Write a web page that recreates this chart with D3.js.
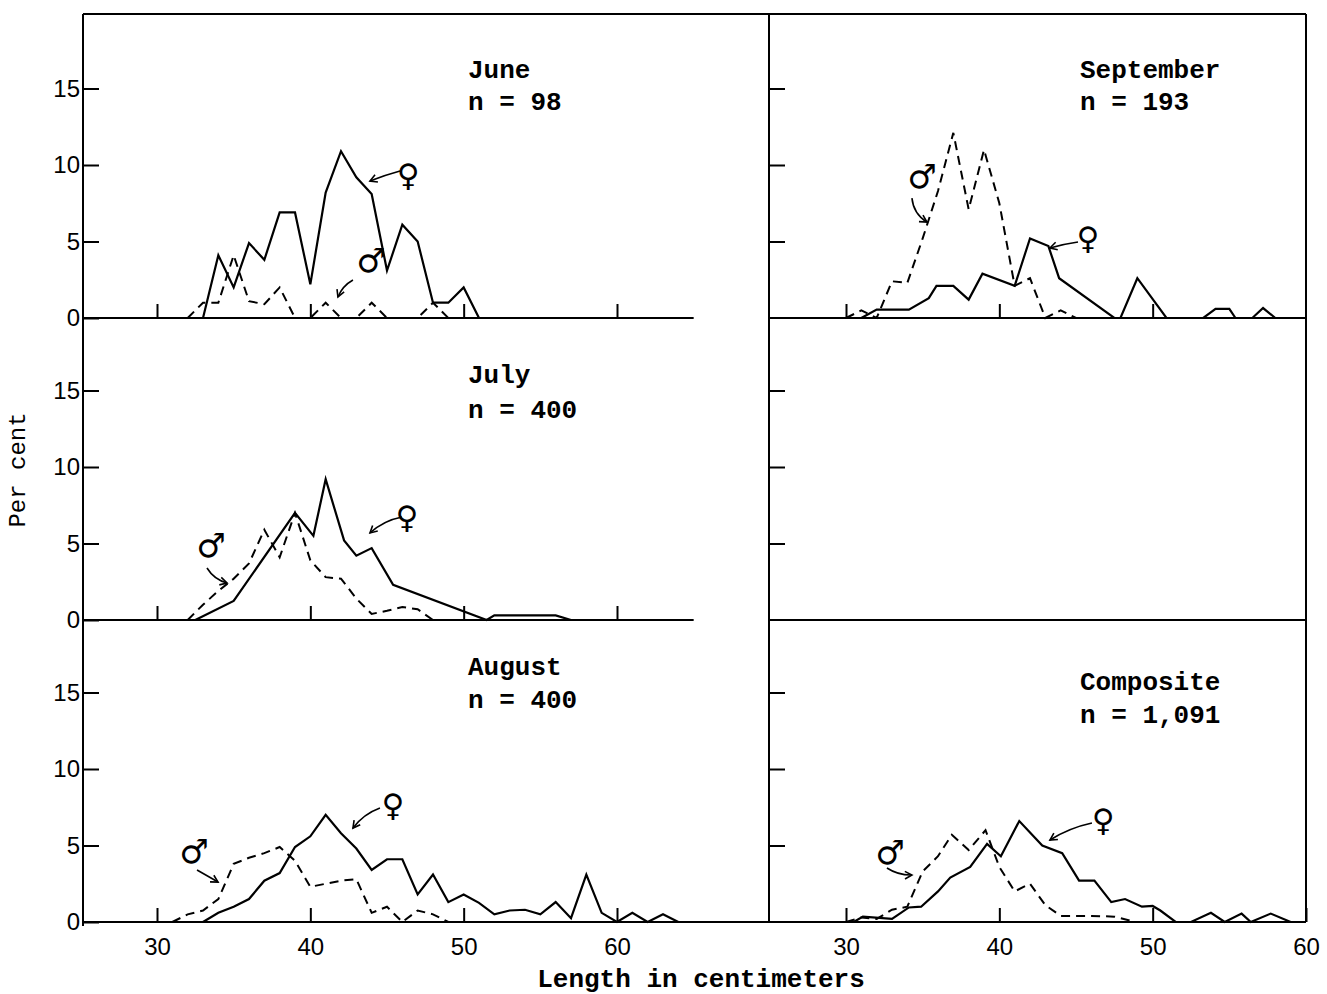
<!DOCTYPE html>
<html>
<head>
<meta charset="utf-8">
<script src="https://cdn.jsdelivr.net/npm/d3@7/dist/d3.min.js"></script>
<style>
  body { margin: 0; background: #fff; }
</style>
</head>
<body>
<div id="chart"></div>
<script>
// Length-frequency data: [length in cm, per cent]
const juneFemale = [[33,0],[34,4.1],[35,2.0],[36,4.9],[37,3.8],[38,6.9],[39,6.9],[40,2.2],[41,8.2],[42,10.9],[43,9.2],[44,8.1],[45,3.1],[46,6.1],[47,5.0],[48,1.0],[49,1.0],[50,2.0],[51,0]];
const juneMale = [[32,0],[33,1.0],[34,1.0],[35,4.1],[36,1.1],[37,0.9],[38,2.0],[39,0],[40,0],[41,1.0],[42,0],[43,0],[44,1.0],[45,0],[47,0],[48,1.0],[49,0]];

const julyFemale = [[32.5,0],[35,1.25],[39,7.0],[40.2,5.5],[41,9.2],[42.2,5.2],[43,4.2],[44,4.7],[45.4,2.3],[51.5,0],[52,0.3],[56,0.3],[57,0]];
const julyMale = [[32,0],[33,1.0],[34,1.9],[35,2.7],[36,3.7],[37,5.9],[38,4.1],[39,7.0],[40,3.9],[41,2.8],[42,2.7],[43,1.4],[44,0.4],[45,0.6],[46,0.85],[47,0.7],[48,0]];

const augustFemale = [[33,0],[34,0.6],[35,1.0],[36,1.5],[37,2.7],[38,3.2],[39,4.9],[40,5.6],[41,7.0],[42,5.8],[43,4.8],[44,3.4],[45,4.1],[46,4.1],[47,1.8],[48,3.1],[49,1.3],[50,1.8],[51,1.25],[52,0.5],[53,0.75],[54,0.8],[55,0.5],[56,1.3],[57,0.25],[58,3.1],[59,0.6],[60,0],[61,0.6],[62,0],[63,0.5],[64,0]];
const augustMale = [[31,0],[32,0.5],[33,0.75],[34,1.5],[35,3.8],[36,4.2],[37,4.5],[38,4.9],[39,4.0],[40,2.3],[41,2.5],[42,2.7],[43,2.8],[44,0.6],[45,1.0],[46,0],[47,0.75],[48,0.5],[49,0]];

const septemberFemale = [[31,0],[32,0.55],[34.1,0.55],[35.4,1.3],[35.9,2.1],[37,2.1],[38,1.2],[38.9,2.9],[41,2.1],[42,5.2],[43.2,4.7],[43.9,2.6],[47.5,0],[47.9,0],[49,2.6],[50.9,0],[53.3,0],[54.1,0.6],[55,0.6],[55.4,0],[56.5,0],[57.2,0.65],[58,0]];
const septemberMale = [[30,0],[31,0.5],[32,0],[33,2.4],[34,2.3],[35,5.2],[36,8.3],[37,12.1],[38,7.1],[39,11.0],[40,7.5],[41,2.1],[42,2.6],[43,0],[44,0.5],[45,0]];

const compositeFemale = [[30.5,0],[31.1,0.35],[33,0.2],[34.1,0.95],[34.9,1.0],[36,2.0],[36.8,2.9],[38.1,3.6],[39.2,5.1],[40.1,4.3],[41.3,6.6],[42.8,5.0],[44.1,4.5],[45.2,2.7],[46.2,2.7],[47.3,1.3],[48.2,1.5],[49.3,1.0],[50,1.05],[50.5,0.75],[51.5,0],[52.5,0],[53.8,0.6],[54.7,0],[55.8,0.55],[56.4,0],[57.7,0.55],[59,0]];
const compositeMale = [[30,0],[31,0.3],[32,0.2],[33,0.8],[34,1.0],[35,3.3],[36,4.3],[36.9,5.7],[38,4.7],[39.1,6.0],[40,3.6],[41,2.0],[42,2.5],[43,1.1],[44,0.4],[46,0.4],[47.5,0.35],[48.9,0]];

const yTickValues = [0, 5, 10, 15];
const xTickValues = [30, 40, 50, 60];

// Layout
const width = 1327, height = 994;
const frameTop = 14, frameLeft = 83, divider = 769, frameRight = 1306;
const rowBase = [318, 620, 922];
const monoFont = "'Liberation Mono', 'Courier New', monospace";
const numFont = "'Liberation Sans', Arial, sans-serif";
const symFont = "'DejaVu Sans', sans-serif";

const svg = d3.select("#chart").append("svg")
    .attr("width", width)
    .attr("height", height)
    .style("background", "#fff");

const xL = d3.scaleLinear().domain([30, 60]).range([157, 617]);
const xR = d3.scaleLinear().domain([30, 60]).range([846, 1306]);
function yRow(i) {
    return d3.scaleLinear().domain([0, 15]).range([rowBase[i], rowBase[i] - 229.5]);
}

// Panel settings (label offsets in px from each panel's baseline)
const panels = [
    { title: "June", n: "n = 98", row: 0, side: "L", female: juneFemale, male: juneMale,
      baseEnd: 65, xt: xTickValues, labelX: 468, labelDy: [-240, -208],
      fGlyph: [46.37, 9.35], fArrow: [[45.85, 9.61], [43.89, 8.95], 1],
      mGlyph: [43.96, 3.79], mArrow: [[42.78, 2.48], [41.8, 1.37], 4] },
    { title: "July", n: "n = 400", row: 1, side: "L", female: julyFemale, male: julyMale,
      baseEnd: 65, xt: xTickValues, labelX: 468, labelDy: [-237, -202],
      fGlyph: [46.3, 6.73], fArrow: [[45.98, 6.73], [43.89, 5.69], 5],
      mGlyph: [33.52, 4.84], mArrow: [[33.26, 3.4], [34.57, 2.42], 5] },
    { title: "August", n: "n = 400", row: 2, side: "L", female: augustFemale, male: augustMale,
      baseEnd: null, xt: xTickValues, labelX: 468, labelDy: [-247, -214],
      fGlyph: [45.39, 7.65], fArrow: [[44.54, 7.45], [42.78, 6.14], 5],
      mGlyph: [32.41, 4.58], mArrow: [[32.61, 3.4], [33.98, 2.61], 0] },
    { title: "September", n: "n = 193", row: 0, side: "R", female: septemberFemale, male: septemberMale,
      baseEnd: null, xt: [30, 40, 50], labelX: 1080, labelDy: [-240, -208],
      fGlyph: [45.78, 5.23], fArrow: [[45.13, 4.97], [43.3, 4.58], 1],
      mGlyph: [34.96, 9.22], mArrow: [[34.3, 7.84], [35.28, 6.27], 7] },
    { title: null, row: 1, side: "R", xt: [] },
    { title: "Composite", n: "n = 1,091", row: 2, side: "R", female: compositeFemale, male: compositeMale,
      baseEnd: null, xt: xTickValues, labelX: 1080, labelDy: [-232, -199],
      fGlyph: [46.76, 6.67], fArrow: [[46.04, 6.47], [43.3, 5.36], 4],
      mGlyph: [32.87, 4.51], mArrow: [[32.67, 3.53], [34.3, 3.07], 4] }
];

const frame = svg.append("g").attr("stroke", "#000").attr("stroke-width", 2).attr("fill", "none");
frame.append("line").attr("x1", frameLeft).attr("x2", frameRight).attr("y1", frameTop).attr("y2", frameTop);
frame.append("line").attr("x1", frameLeft).attr("x2", frameLeft).attr("y1", frameTop).attr("y2", rowBase[2] + 4);
frame.append("line").attr("x1", divider).attr("x2", divider).attr("y1", frameTop).attr("y2", rowBase[2]);
frame.append("line").attr("x1", frameRight).attr("x2", frameRight).attr("y1", frameTop).attr("y2", rowBase[2]);

function drawArrow(g, x, y, a) {
    const p0 = a[0], p1 = a[1], bend = a[2];
    const x0 = x(p0[0]), y0 = y(p0[1]), x1 = x(p1[0]), y1 = y(p1[1]);
    const dx = x1 - x0, dy = y1 - y0, len = Math.hypot(dx, dy);
    const cx = (x0 + x1) / 2 - dy / len * bend, cy = (y0 + y1) / 2 + dx / len * bend;
    g.append("path")
        .attr("d", `M${x0},${y0}Q${cx},${cy} ${x1},${y1}`)
        .attr("fill", "none").attr("stroke", "#000").attr("stroke-width", 1.6);
    const ang = Math.atan2(y1 - cy, x1 - cx), h = 8, s = 0.5;
    g.append("path")
        .attr("d", `M${x1 - h * Math.cos(ang - s)},${y1 - h * Math.sin(ang - s)}L${x1},${y1}L${x1 - h * Math.cos(ang + s)},${y1 - h * Math.sin(ang + s)}`)
        .attr("fill", "none").attr("stroke", "#000").attr("stroke-width", 1.6);
}

panels.forEach(function(p) {
    const x = p.side === "L" ? xL : xR;
    const y = yRow(p.row);
    const base = rowBase[p.row];
    const g = svg.append("g");
    const left = p.side === "L" ? frameLeft : divider;
    const right = p.side === "L" ? (p.baseEnd ? x(p.baseEnd) : divider) : frameRight;

    // baseline (zero line)
    g.append("line")
        .attr("x1", left).attr("x2", right)
        .attr("y1", base).attr("y2", base)
        .attr("stroke", "#000").attr("stroke-width", 2);

    // y axis ticks (inward) with labels on the left panels only
    const yAxis = d3.axisLeft(y)
        .tickValues(p.side === "L" ? yTickValues : [5, 10, 15])
        .tickSizeInner(-16).tickSizeOuter(0).tickPadding(3)
        .tickFormat(p.side === "L" ? d3.format("d") : () => "");
    const ya = g.append("g").attr("transform", `translate(${left},0)`).call(yAxis);
    ya.select(".domain").remove();
    ya.selectAll("line").attr("stroke", "#000").attr("stroke-width", 2);
    ya.selectAll("text").attr("font-family", numFont).attr("font-size", 24).attr("fill", "#000");

    // x axis ticks (pointing up), numbers only on the bottom row
    if (p.xt.length) {
        const xAxis = d3.axisBottom(x)
            .tickValues(p.xt)
            .tickSizeInner(-14).tickSizeOuter(0).tickPadding(16)
            .tickFormat(p.row === 2 ? d3.format("d") : () => "");
        const xa = g.append("g").attr("transform", `translate(0,${base})`).call(xAxis);
        xa.select(".domain").remove();
        xa.selectAll("line").attr("stroke", "#000").attr("stroke-width", 2);
        xa.selectAll("text").attr("font-family", numFont).attr("font-size", 24).attr("fill", "#000");
    }

    if (!p.title) return;

    const line = d3.line().x(d => x(d[0])).y(d => y(d[1]));
    g.append("path").datum(p.female).attr("d", line)
        .attr("fill", "none").attr("stroke", "#000").attr("stroke-width", 2.2)
        .attr("stroke-linejoin", "miter");
    g.append("path").datum(p.male).attr("d", line)
        .attr("fill", "none").attr("stroke", "#000").attr("stroke-width", 2)
        .attr("stroke-dasharray", "9,6");

    // month label
    g.append("text").attr("x", p.labelX).attr("y", base + p.labelDy[0])
        .attr("font-family", monoFont).attr("font-weight", "bold").attr("font-size", 26)
        .text(p.title);
    g.append("text").attr("x", p.labelX).attr("y", base + p.labelDy[1])
        .attr("font-family", monoFont).attr("font-weight", "bold").attr("font-size", 26)
        .text(p.n);

    // sex symbols with pointer arrows
    g.append("text").attr("x", x(p.fGlyph[0])).attr("y", y(p.fGlyph[1]))
        .attr("text-anchor", "middle").attr("dominant-baseline", "central")
        .attr("font-family", symFont).attr("font-size", 31).attr("font-weight", "bold")
        .text("\u2640");
    g.append("text").attr("x", x(p.mGlyph[0])).attr("y", y(p.mGlyph[1]))
        .attr("text-anchor", "middle").attr("dominant-baseline", "central")
        .attr("font-family", symFont).attr("font-size", 33).attr("font-weight", "bold")
        .text("\u2642");
    drawArrow(g, x, y, p.fArrow);
    drawArrow(g, x, y, p.mArrow);
});

// axis titles
svg.append("text")
    .attr("transform", "translate(25,470) rotate(-90)")
    .attr("text-anchor", "middle")
    .attr("font-family", monoFont).attr("font-size", 24)
    .text("Per cent");

svg.append("text")
    .attr("x", 701).attr("y", 987)
    .attr("text-anchor", "middle")
    .attr("font-family", monoFont).attr("font-weight", "bold").attr("font-size", 26)
    .text("Length in centimeters");
</script>
</body>
</html>
